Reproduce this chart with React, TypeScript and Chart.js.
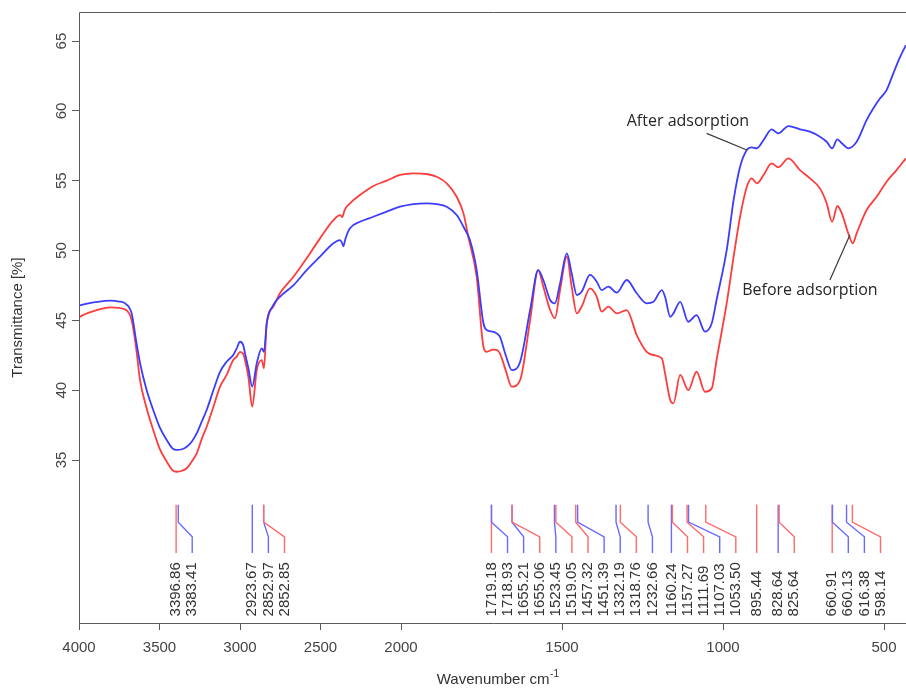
import { useEffect, useRef } from 'react';
import { Chart, registerables } from 'chart.js';

Chart.register(...registerables);

// ---- data ----
const afterWavenumbers = [
  4000, 3950, 3900, 3807, 3750, 3714, 3673, 3646, 3621, 3580, 3539, 3500, 3455, 3420, 3393, 3360, 3331, 3300,
  3269, 3238, 3207, 3165, 3124, 3083, 3042, 3020, 3000, 2980, 2969, 2948, 2924, 2896, 2865, 2851, 2834, 2793,
  2752, 2669, 2586, 2503, 2420, 2379, 2368, 2358, 2345, 2317, 2255, 2172, 2089, 2006, 1962, 1920, 1889, 1858,
  1827, 1806, 1786, 1765, 1744, 1734, 1715, 1703, 1693, 1675, 1656, 1630, 1599, 1574, 1558, 1537, 1522, 1506,
  1485, 1470, 1454, 1439, 1413, 1392, 1377, 1356, 1330, 1299, 1268, 1237, 1216, 1190, 1180, 1164, 1154, 1133,
  1108, 1082, 1056, 1035, 1020, 988, 967, 947, 926, 911, 895, 874, 849, 828, 797, 761, 730, 699, 678, 661, 645,
  631, 611, 585, 554, 523, 512, 492, 471, 453, 432,
];
const afterTransmittance = [
  46.05, 46.2, 46.3, 46.41, 46.35, 46.22, 45.5, 43.6, 41.95, 40.01, 38.58, 37.38, 36.43, 35.84, 35.72, 35.77, 35.95, 36.31,
  36.91, 37.74, 38.58, 40.01, 41.32, 42.04, 42.52, 43.0, 43.47, 43.23, 42.64, 41.57, 40.25, 41.92, 43.0, 42.75, 44.79, 46.1,
  46.69, 47.5, 48.6, 49.56, 50.52, 50.75, 50.6, 50.3, 50.85, 51.59, 52.06, 52.42, 52.78, 53.14, 53.33, 53.38, 53.33, 53.14,
  52.54, 51.7, 50.75, 48.6, 44.79, 44.31, 44.19, 44.07, 43.83, 42.52, 41.44, 42.04, 45.74, 48.6, 47.89, 46.46, 46.22, 47.65,
  49.8, 48.37, 46.81, 47.05, 48.25, 47.77, 47.17, 47.41, 46.98, 47.89, 46.94, 46.22, 46.33, 47.17, 46.69, 45.26, 45.5, 46.33,
  44.9, 45.38, 44.19, 44.79, 46.46, 50.1, 53.62, 56.0, 57.2, 57.39, 57.32, 57.91, 58.68, 58.39, 58.91, 58.68, 58.51, 58.15, 57.79, 57.32, 57.96,
  57.68, 57.32, 57.79, 59.34, 60.54, 60.9, 61.49, 62.69, 63.7, 64.71,
];

const beforeWavenumbers = [
  4000, 3994, 3900, 3807, 3714, 3673, 3646, 3621, 3580, 3539, 3500, 3455, 3420, 3393, 3360, 3331, 3300, 3269,
  3238, 3207, 3165, 3124, 3083, 3042, 3020, 3000, 2980, 2969, 2948, 2924, 2896, 2865, 2851, 2834, 2793, 2752,
  2669, 2586, 2503, 2420, 2379, 2365, 2350, 2317, 2255, 2172, 2089, 2006, 1962, 1920, 1889, 1858, 1827, 1806,
  1791, 1765, 1744, 1734, 1715, 1703, 1693, 1675, 1656, 1630, 1599, 1574, 1558, 1537, 1522, 1506, 1485, 1470,
  1454, 1439, 1413, 1392, 1377, 1356, 1330, 1299, 1268, 1237, 1216, 1190, 1180, 1164, 1154, 1133, 1108, 1082,
  1056, 1035, 1020, 988, 967, 947, 926, 911, 895, 874, 849, 828, 797, 761, 730, 699, 678, 661, 645, 631, 611,
  597, 585, 554, 523, 492, 461, 432,
];
const beforeTransmittance = [
  45.2, 45.26, 45.69, 45.93, 45.79, 45.02, 43.11, 40.73, 38.7, 37.15, 35.84, 34.88, 34.28, 34.16, 34.23, 34.41, 34.88, 35.48,
  36.5, 37.38, 38.82, 40.25, 41.09, 42.16, 42.4, 42.75, 42.59, 42.16, 40.96, 38.82, 41.44, 42.16, 41.57, 44.79, 45.98, 46.94,
  48.1, 49.44, 50.87, 52.18, 52.54, 52.4, 52.9, 53.38, 53.97, 54.62, 55.0, 55.41, 55.53, 55.48, 55.28, 54.81, 53.85, 52.66,
  50.99, 48.12, 43.11, 42.75, 42.9, 42.88, 42.64, 41.44, 40.25, 40.73, 45.02, 48.6, 47.41, 45.74, 45.15, 47.17, 49.56, 47.41,
  45.5, 45.98, 47.29, 46.69, 45.62, 45.98, 45.5, 45.74, 43.95, 42.75, 42.52, 42.28, 41.21, 39.3, 39.06, 41.09, 40.01, 41.32,
  39.89, 40.13, 42.16, 46.3, 49.56, 52.42, 54.57, 55.17, 54.81, 55.41, 56.24, 55.96, 56.6, 55.76, 55.17, 54.45, 53.38, 52.06, 53.19, 52.66, 51.23,
  50.52, 51.23, 52.9, 53.85, 54.93, 55.76, 56.6,
];

const xTickValues = [4000, 3500, 3000, 2500, 2000, 1500, 1000, 500];
const yTickValues = [35, 40, 45, 50, 55, 60, 65];

const peakLabels = [
  '3396.86', '3383.41', '2923.67', '2852.97', '2852.85', '1719.18', '1718.93', '1655.21', '1655.06', '1523.45',
  '1519.05', '1457.32', '1451.39', '1332.19', '1318.76', '1232.66', '1160.24', '1157.27', '1111.69', '1107.03',
  '1053.50', '895.44', '828.64', '825.64', '660.91', '660.13', '616.38', '598.14',
];
const peakSeries = [
  'before', 'after', 'after', 'after', 'before', 'before', 'after', 'after', 'before', 'after',
  'before', 'before', 'after', 'after', 'before', 'after', 'after', 'before', 'before', 'after',
  'before', 'before', 'after', 'before', 'before', 'after', 'after', 'before',
];

// axis limits
const xAxisStart = 4000;
const xAxisEnd = 431.7;
const yAxisMin = 23.33;
const yAxisMax = 67.08;

// annotation anchors (data units)
const afterNote = { text: 'After adsorption', x: 1109, y: 59.27, from: [1051, 58.39], to: [926, 57.2] };
const beforeNote = { text: 'Before adsorption', x: 730, y: 47.17, from: [668, 47.89], to: [606, 51.11] };

// ---- FTIR axis: 2000 cm-1 break, scale doubled below 2000 ----
const toU = (w: number) => (w >= 2000 ? 4000 - w : 2000 + 2 * (2000 - w));
const fromU = (u: number) => (u <= 2000 ? 4000 - u : 2000 - (u - 2000) / 2);

const RED = '#ff3c3c';
const BLUE = '#3c3cff';
const RED_PEAK = '#ff6a6a';
const BLUE_PEAK = '#6a6aff';
const AXIS = '#5a5a5a';
const SANS = '"Liberation Sans", Arial, sans-serif';

const overlayPlugin = {
  id: 'ftirOverlay',
  afterDraw(chart: any) {
    const { ctx, chartArea } = chart;
    const xs = chart.scales.x;
    const ys = chart.scales.y;
    const { left, right, top, bottom } = chartArea;
    ctx.save();

    // frame
    ctx.strokeStyle = AXIS;
    ctx.lineWidth = 1;
    ctx.beginPath();
    ctx.moveTo(right + 1, Math.round(top) + 0.5);
    ctx.lineTo(Math.round(left) + 0.5, Math.round(top) + 0.5);
    ctx.lineTo(Math.round(left) + 0.5, Math.round(bottom) + 0.5);
    ctx.lineTo(right + 1, Math.round(bottom) + 0.5);
    ctx.stroke();

    // y tick labels (rotated)
    ctx.fillStyle = '#444';
    ctx.font = `15px ${SANS}`;
    ctx.textAlign = 'center';
    ctx.textBaseline = 'middle';
    yTickValues.forEach((v) => {
      const py = ys.getPixelForValue(v);
      ctx.save();
      ctx.translate(left - 17, py);
      ctx.rotate(-Math.PI / 2);
      ctx.fillText(String(v), 0, 0);
      ctx.restore();
    });

    // axis titles
    ctx.fillStyle = '#333';
    ctx.save();
    ctx.translate(18, ys.getPixelForValue(45.2));
    ctx.rotate(-Math.PI / 2);
    ctx.textAlign = 'center';
    ctx.fillText('Transmittance [%]', 0, 0);
    ctx.restore();

    const main = 'Wavenumber cm';
    const sup = '-1';
    ctx.font = `15px ${SANS}`;
    const w1 = ctx.measureText(main).width;
    ctx.font = `10px ${SANS}`;
    const w2 = ctx.measureText(sup).width;
    const cx = xs.getPixelForValue(toU(1700));
    const startX = cx - (w1 + w2) / 2;
    ctx.textAlign = 'left';
    ctx.font = `15px ${SANS}`;
    ctx.fillText(main, startX, 680);
    ctx.font = `10px ${SANS}`;
    ctx.fillText(sup, startX + w1 + 0.5, 674);

    // peak markers
    const spacing = 16.1;
    let prev = -Infinity;
    const yTop = ys.getPixelForValue(31.8);
    const yB1 = ys.getPixelForValue(30.55);
    const yB2 = ys.getPixelForValue(29.5);
    const yBot = ys.getPixelForValue(28.35);
    const yText = ys.getPixelForValue(23.8);
    peakLabels.forEach((label, i) => {
      const trueX = xs.getPixelForValue(toU(parseFloat(label)));
      const lx = Math.max(trueX, prev + spacing);
      prev = lx;
      ctx.strokeStyle = peakSeries[i] === 'before' ? RED_PEAK : BLUE_PEAK;
      ctx.lineWidth = 1.4;
      ctx.beginPath();
      ctx.moveTo(trueX, yTop);
      ctx.lineTo(trueX, yB1);
      ctx.lineTo(lx, yB2);
      ctx.lineTo(lx, yBot);
      ctx.stroke();
      ctx.save();
      ctx.translate(lx, yText);
      ctx.rotate(-Math.PI / 2);
      ctx.fillStyle = '#333';
      ctx.font = `15px ${SANS}`;
      ctx.textAlign = 'left';
      ctx.textBaseline = 'middle';
      ctx.fillText(label, 0, 0);
      ctx.restore();
    });

    // annotations
    [afterNote, beforeNote].forEach((n) => {
      ctx.strokeStyle = '#3a3a3a';
      ctx.lineWidth = 1.2;
      ctx.beginPath();
      ctx.moveTo(xs.getPixelForValue(toU(n.from[0])), ys.getPixelForValue(n.from[1]));
      ctx.lineTo(xs.getPixelForValue(toU(n.to[0])), ys.getPixelForValue(n.to[1]));
      ctx.stroke();
      ctx.fillStyle = '#262626';
      ctx.font = '16px "Open Sans", "Noto Sans", sans-serif';
      ctx.textAlign = 'center';
      ctx.textBaseline = 'middle';
      ctx.fillText(n.text, xs.getPixelForValue(toU(n.x)), ys.getPixelForValue(n.y));
    });

    ctx.restore();
  },
};

export default function App() {
  const ref = useRef<HTMLCanvasElement | null>(null);

  useEffect(() => {
    if (!ref.current) return;
    const chart = new Chart(ref.current, {
      type: 'line',
      data: {
        datasets: [
          {
            label: 'After adsorption',
            data: afterWavenumbers.map((w, i) => ({ x: toU(w), y: afterTransmittance[i] })),
            borderColor: BLUE,
            borderWidth: 1.8,
            pointRadius: 0,
            cubicInterpolationMode: 'monotone',
            fill: false,
          },
          {
            label: 'Before adsorption',
            data: beforeWavenumbers.map((w, i) => ({ x: toU(w), y: beforeTransmittance[i] })),
            borderColor: RED,
            borderWidth: 1.8,
            pointRadius: 0,
            cubicInterpolationMode: 'monotone',
            fill: false,
          },
        ],
      },
      options: {
        animation: false,
        responsive: false,
        devicePixelRatio: 1,
        layout: { padding: { top: 12, left: 0, right: 0, bottom: 0 } },
        plugins: { legend: { display: false }, tooltip: { enabled: false } },
        events: [],
        scales: {
          x: {
            type: 'linear',
            min: toU(xAxisStart),
            max: toU(xAxisEnd),
            afterBuildTicks: (s: any) => {
              s.ticks = xTickValues.map((w) => ({ value: toU(w) }));
            },
            afterFit: (s: any) => {
              s.height = 65;
              s.paddingLeft = 0;
              s.paddingRight = 0;
            },
            ticks: {
              autoSkip: false,
              maxRotation: 0,
              minRotation: 0,
              padding: 9,
              color: '#444',
              font: { family: SANS, size: 15 },
              callback: (v: any) => String(Math.round(fromU(Number(v)))),
            },
            grid: { display: true, drawOnChartArea: false, drawTicks: true, tickLength: 7, color: AXIS },
            border: { display: false },
          },
          y: {
            type: 'linear',
            min: yAxisMin,
            max: yAxisMax,
            afterBuildTicks: (s: any) => {
              s.ticks = yTickValues.map((v) => ({ value: v }));
            },
            afterFit: (s: any) => {
              s.width = 79;
            },
            ticks: { display: false },
            grid: { display: true, drawOnChartArea: false, drawTicks: true, tickLength: 7, color: AXIS },
            border: { display: false },
          },
        },
      },
      plugins: [overlayPlugin],
    } as any);
    return () => chart.destroy();
  }, []);

  return (
    <div style={{ position: 'fixed', left: 0, top: 0, width: 906, height: 688, background: '#fff' }}>
      <canvas ref={ref} width={906} height={688} style={{ width: 906, height: 688, display: 'block' }} />
    </div>
  );
}
